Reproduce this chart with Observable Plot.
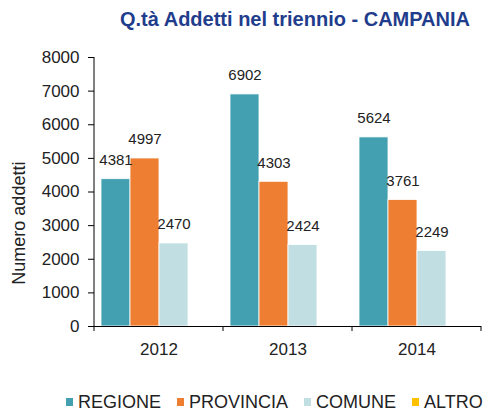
<!DOCTYPE html>
<html>
<head>
<meta charset="utf-8">
<script src="https://cdn.jsdelivr.net/npm/d3@7"></script>
<script src="https://cdn.jsdelivr.net/npm/@observablehq/plot@0.6"></script>
<style>
  html, body { margin: 0; padding: 0; background: #fff; }
  body { width: 486px; height: 412px; overflow: hidden; font-family: "Liberation Sans", Arial, sans-serif; }
  #title { height: 40px; box-sizing: border-box; padding-top: 9px; margin-left: 104px; width: 382px; text-align: center;
           font-size: 20px; line-height: 1; font-weight: bold; color: #1f3d8c; white-space: nowrap; }
  #legend { height: 32px; box-sizing: border-box; padding-top: 11px; padding-left: 66px; display: flex; font-size: 18px; line-height: 1; color: #222; white-space: nowrap; }
  .item { display: flex; align-items: center; margin-right: 16px; }
  .sw { width: 7px; height: 8px; margin-right: 5px; }
  svg text { font-family: "Liberation Sans", Arial, sans-serif; }
</style>
</head>
<body>
<div id="title"></div>
<div id="chart"></div>
<div id="legend"></div>
<script>
const titleText = "Q.tà Addetti nel triennio - CAMPANIA";
const yLabel = "Numero addetti";
const years = ["2012", "2013", "2014"];
const series = ["REGIONE", "PROVINCIA", "COMUNE", "ALTRO"];
const colors = ["#42a0b1", "#ee7f32", "#c1dfe3", "#ffc000"];
const regione = [4381, 6902, 5624];
const provincia = [4997, 4303, 3761];
const comune = [2470, 2424, 2249];
const altro = [0, 0, 0];
const yTicks = [0, 1000, 2000, 3000, 4000, 5000, 6000, 7000, 8000];

const valuesBySeries = [regione, provincia, comune, altro];
const data = [];
years.forEach((yr, i) => series.forEach((s, j) => data.push({year: yr, series: s, value: valuesBySeries[j][i]})));
const shown = data.filter(d => d.value > 0);

document.getElementById("title").textContent = titleText;

const chart = Plot.plot({
  width: 486,
  height: 340,
  marginLeft: 93,
  marginRight: 5,
  marginTop: 17,
  marginBottom: 54,
  style: {fontFamily: '"Liberation Sans", Arial, sans-serif', background: "white", color: "#222"},
  fx: {domain: years, padding: 0, label: null},
  x: {domain: series, paddingInner: 0, paddingOuter: 0.2, axis: null},
  y: {domain: [0, 8000], label: null},
  color: {domain: series, range: colors},
  marks: [
    Plot.barY(shown, {fx: "year", x: "series", y: "value", fill: "series", stroke: "white", strokeWidth: 0.8}),
    Plot.text(shown, {fx: "year", x: "series", y: "value", text: d => String(d.value), dy: -19, lineAnchor: "middle", fontSize: 15, fill: "#222"}),
    Plot.ruleY([0], {stroke: "#000"}),
    Plot.axisY({ticks: yTicks, tickSize: 6, tickPadding: 9, fontSize: 17, label: null, stroke: "#000", fill: "#222", tickFormat: d => String(d)}),
    Plot.axisFx({anchor: "bottom", tickSize: 0, tickPadding: 16, fontSize: 17, label: null, fill: "#222"})
  ]
});
document.getElementById("chart").appendChild(chart);

// axis line, boundary ticks and axis title from the library scales
const svg = d3.select(chart);
const fx = chart.scale("fx");
const y = chart.scale("y");
const y0 = y.apply(0), yTop = y.apply(8000);
const bounds = years.map(v => fx.apply(v)).concat([fx.apply(years[years.length - 1]) + fx.bandwidth]);
const g = svg.append("g").attr("stroke", "#000");
g.append("line").attr("x1", bounds[0]).attr("x2", bounds[0]).attr("y1", yTop).attr("y2", y0);
bounds.forEach(b => g.append("line").attr("x1", b).attr("x2", b).attr("y1", y0).attr("y2", y0 + 5));
svg.append("text")
  .attr("transform", `translate(19,${y.apply(3000) - 2}) rotate(-90)`)
  .attr("text-anchor", "middle").attr("dominant-baseline", "central")
  .attr("font-size", 18).attr("fill", "#222").text(yLabel);

const legend = document.getElementById("legend");
series.forEach((s, i) => {
  const it = document.createElement("div"); it.className = "item";
  const sw = document.createElement("div"); sw.className = "sw"; sw.style.background = colors[i];
  const t = document.createElement("span"); t.textContent = s;
  it.appendChild(sw); it.appendChild(t); legend.appendChild(it);
});
</script>
</body>
</html>
